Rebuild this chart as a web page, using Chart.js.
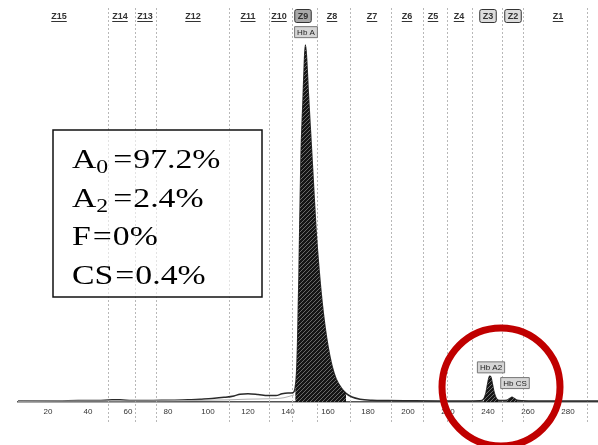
<!DOCTYPE html>
<html>
<head>
<meta charset="utf-8">
<script src="https://cdn.jsdelivr.net/npm/chart.js@4.4.1/dist/chart.umd.min.js"></script>
<style>
body { margin: 0; background: #fff; }
</style>
</head>
<body>
<canvas id="myChart" width="598" height="445"></canvas>
<script>
// electropherogram trace: migration position (x) vs absorbance (% of Hb A peak)
var traceX = [5, 15, 25, 35, 45, 52, 56, 62, 70, 80, 90, 96, 102, 108, 113, 116, 120, 125, 130, 134,
    137, 140, 142.5, 143.6, 144.3, 144.8, 145.5, 146.5, 147.5, 148.2, 148.7, 149.3, 150.2, 151.2, 152.5,
    154, 155.5, 157, 158.5, 160, 162, 164, 166.5, 169, 172, 176, 182, 190, 200, 215, 228, 236, 237.8,
    239, 240, 240.8, 241.4, 242, 242.8, 243.8, 245, 247, 249.5, 251, 252, 253, 254.5, 257, 265, 280, 295];
var traceY = [0.3, 0.3, 0.3, 0.4, 0.4, 0.6, 0.6, 0.4, 0.4, 0.5, 0.6, 0.8, 1.0, 1.3, 1.7, 2.2, 2.3, 2.1, 1.8, 1.8,
    2.3, 2.5, 2.6, 4, 8, 16, 35, 68, 84, 95, 100, 96, 86, 76, 63,
    48, 37, 28, 21, 15.5, 10, 6.5, 4, 2.4, 1.4, 0.8, 0.5, 0.4, 0.35, 0.3, 0.3, 0.35, 0.8,
    2.5, 5.5, 7.2, 7.0, 5.5, 3.2, 1.4, 0.5, 0.4, 0.5, 1.0, 1.3, 1.0, 0.5, 0.35, 0.3, 0.3, 0.3];
// second (lighter) trace near the baseline
var refX = [5, 40, 70, 90, 100, 110, 120, 130, 138, 143];
var refY = [0.2, 0.3, 0.3, 0.4, 0.5, 0.6, 0.8, 0.9, 1.2, 2.0];

var xTicks = [20, 40, 60, 80, 100, 120, 140, 160, 180, 200, 220, 240, 260, 280];

var zoneNames = ['Z15', 'Z14', 'Z13', 'Z12', 'Z11', 'Z10', 'Z9', 'Z8', 'Z7', 'Z6', 'Z5', 'Z4', 'Z3', 'Z2', 'Z1'];
var zoneX = [25.5, 56, 68.5, 92.5, 120, 135.5, 147.5, 162, 182, 199.5, 212.5, 225.5, 240, 252.5, 275];
var zoneBoxed = [false, false, false, false, false, false, true, false, false, false, false, false, true, true, false];
var zoneLines = [50, 63.5, 74, 110.5, 130.5, 142, 154.5, 171, 191.5, 207.5, 219.5, 232, 247, 257.5, 289.5];

var peakNames = ['Hb A', 'Hb A2', 'Hb CS'];
var peakLabelX = [149, 241.5, 253.5];
var peakLabelY = [103.6, 9.7, 5.3];
var peakFrom = [143.5, 237.5, 249];
var peakTo = [171, 245.5, 255.5];

var resultNames = ['A', 'A', 'F', 'CS'];
var resultSubs = ['0', '2', '', ''];
var resultValues = ['97.2%', '2.4%', '0%', '0.4%'];

var tracePoints = traceX.map(function (x, i) { return { x: x, y: traceY[i] }; });
var refPoints = refX.map(function (x, i) { return { x: x, y: refY[i] }; });

// hatched fill for the peaks
var pc = document.createElement('canvas');
pc.width = 4; pc.height = 4;
var pctx = pc.getContext('2d');
pctx.fillStyle = '#151515';
pctx.fillRect(0, 0, 4, 4);
pctx.strokeStyle = '#6a6a6a';
pctx.lineWidth = 1;
pctx.beginPath();
pctx.moveTo(0, 4); pctx.lineTo(4, 0);
pctx.stroke();
var hatch = pctx.createPattern(pc, 'repeat');

var datasets = [];
for (var p = 0; p < peakFrom.length; p++) {
    datasets.push({
        data: tracePoints.filter(function (pt) { return pt.x >= peakFrom[p] && pt.x <= peakTo[p]; }),
        borderWidth: 0,
        backgroundColor: hatch,
        fill: 'origin',
        pointRadius: 0,
        cubicInterpolationMode: 'monotone'
    });
}
datasets.push({
    data: refPoints,
    borderColor: '#b0b0b0',
    borderWidth: 1,
    fill: false,
    pointRadius: 0,
    cubicInterpolationMode: 'monotone'
});
datasets.push({
    data: tracePoints,
    borderColor: '#2a2a2a',
    borderWidth: 1.5,
    fill: false,
    pointRadius: 0,
    cubicInterpolationMode: 'monotone'
});

function stretched(ctx, txt, x, y, sx) {
    ctx.save();
    ctx.translate(x, y);
    ctx.scale(sx, 1);
    ctx.fillText(txt, 0, 0);
    ctx.restore();
    return ctx.measureText(txt).width * sx;
}

var decorations = {
    id: 'decorations',
    beforeDatasetsDraw: function (chart) {
        var ctx = chart.ctx, xs = chart.scales.x;
        ctx.save();
        ctx.strokeStyle = '#b8b8b8';
        ctx.lineWidth = 1;
        ctx.setLineDash([2, 2]);
        zoneLines.forEach(function (v) {
            var px = Math.round(xs.getPixelForValue(v)) + 0.5;
            ctx.beginPath();
            ctx.moveTo(px, 8);
            ctx.lineTo(px, 422);
            ctx.stroke();
        });
        ctx.restore();
    },
    afterDraw: function (chart) {
        var ctx = chart.ctx, xs = chart.scales.x, ys = chart.scales.y;
        ctx.save();
        // zone labels along the top
        ctx.font = 'bold 9px "Liberation Sans"';
        ctx.textAlign = 'center';
        ctx.textBaseline = 'middle';
        zoneNames.forEach(function (name, i) {
            var px = xs.getPixelForValue(zoneX[i]);
            var w = ctx.measureText(name).width;
            if (zoneBoxed[i]) {
                ctx.fillStyle = i === 6 ? '#a8a8a8' : '#dcdcdc';
                ctx.strokeStyle = '#333';
                ctx.lineWidth = 1;
                ctx.beginPath();
                ctx.roundRect(px - w / 2 - 3, 9.5, w + 6, 13, 2);
                ctx.fill();
                ctx.stroke();
            }
            ctx.fillStyle = '#333';
            ctx.fillText(name, px, 16.5);
            if (!zoneBoxed[i]) {
                ctx.fillRect(px - w / 2, 21, w, 1);
            }
        });
        // peak labels
        ctx.font = '8px "Liberation Sans"';
        peakNames.forEach(function (name, i) {
            var px = xs.getPixelForValue(peakLabelX[i]);
            var py = ys.getPixelForValue(peakLabelY[i]);
            var w = ctx.measureText(name).width;
            ctx.fillStyle = '#d6d6d6';
            ctx.strokeStyle = '#777';
            ctx.lineWidth = 1;
            ctx.beginPath();
            ctx.rect(px - w / 2 - 2.5, py - 5.5, w + 5, 11);
            ctx.fill();
            ctx.stroke();
            ctx.fillStyle = '#222';
            ctx.fillText(name, px, py + 0.5);
        });
        // result box
        ctx.fillStyle = 'rgba(255,255,255,0.6)';
        ctx.fillRect(53, 130, 209, 167);
        ctx.strokeStyle = '#111';
        ctx.lineWidth = 1.5;
        ctx.strokeRect(53, 130, 209, 167);
        ctx.fillStyle = '#000';
        ctx.textAlign = 'left';
        ctx.textBaseline = 'alphabetic';
        resultNames.forEach(function (name, i) {
            var x = 72, y = 168 + i * 38.5;
            ctx.font = '27px "Liberation Serif"';
            x += stretched(ctx, name, x, y, 1.25);
            if (resultSubs[i]) {
                ctx.font = '19px "Liberation Serif"';
                x += stretched(ctx, resultSubs[i], x, y + 5, 1.25);
                x += 3;
            }
            ctx.font = '27px "Liberation Serif"';
            x += 2;
            x += stretched(ctx, '=', x, y, 1.25);
            x += 1;
            stretched(ctx, resultValues[i], x, y, 1.25);
        });
        // red circle around the minor peaks
        ctx.strokeStyle = '#c00000';
        ctx.lineWidth = 7;
        ctx.beginPath();
        ctx.arc(xs.getPixelForValue(246.5), ys.getPixelForValue(4.2), 59, 0, Math.PI * 2);
        ctx.stroke();
        ctx.restore();
    }
};

var ctx = document.getElementById('myChart').getContext('2d');
var chart = new Chart(ctx, {
    type: 'line',
    data: { datasets: datasets },
    options: {
        responsive: false,
        animation: false,
        layout: { padding: { left: 18, right: 0, top: 40, bottom: 0 } },
        plugins: { legend: { display: false }, tooltip: { enabled: false } },
        scales: {
            x: {
                type: 'linear',
                min: 5,
                max: 295,
                afterBuildTicks: function (s) { s.ticks = xTicks.map(function (v) { return { value: v }; }); },
                afterFit: function (s) { s.height = 43; },
                grid: { display: false },
                border: { display: true, color: '#555', width: 1.5 },
                ticks: { font: { size: 8, family: 'Liberation Sans' }, color: '#333', padding: -3, maxRotation: 0, autoSkip: false }
            },
            y: { display: false, min: 0, max: 101.4 }
        }
    },
    plugins: [decorations]
});
</script>
</body>
</html>
